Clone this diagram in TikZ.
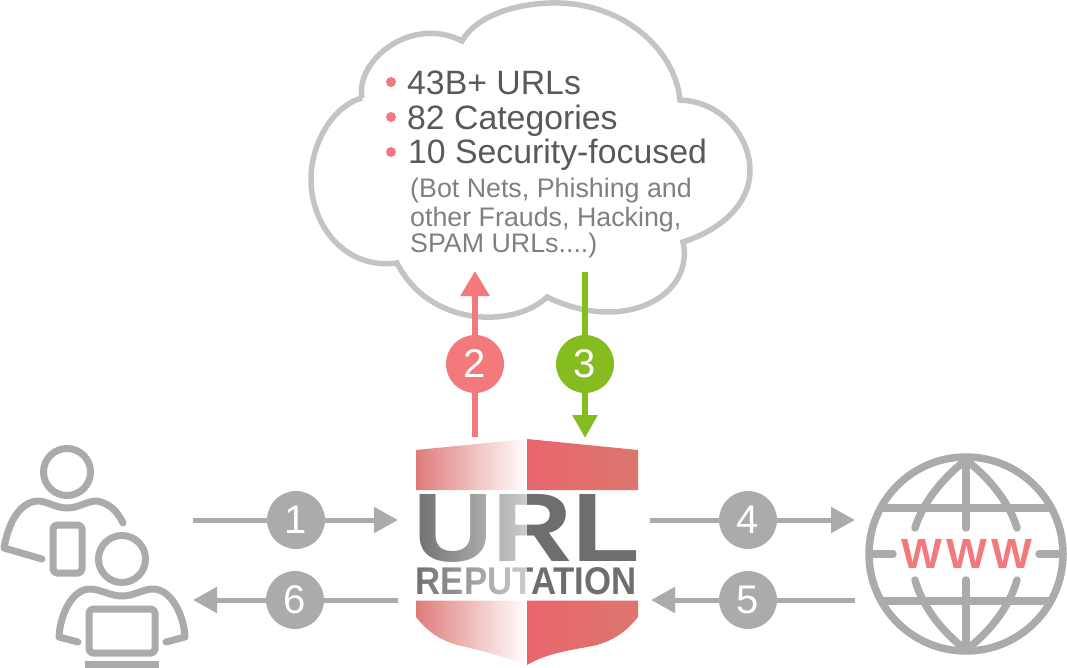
\documentclass[tikz,border=0pt]{standalone}
\usepackage{fontspec}
\setmainfont{Liberation Sans}
\usetikzlibrary{arrows.meta,fadings}
\definecolor{flow}{HTML}{ABABAB}
\definecolor{rosy}{HTML}{F4797C}
\definecolor{leaf}{HTML}{85BC20}
\definecolor{cloudline}{HTML}{C4C4C4}
\definecolor{bigtext}{HTML}{5A5858}
\definecolor{smalltext}{HTML}{808080}
\definecolor{urlgray}{HTML}{706E6C}
\definecolor{shieldA}{HTML}{E8656C}
\definecolor{shieldB}{HTML}{DD776E}
\definecolor{shieldC}{HTML}{DF7C7A}
\tikzfading[name=urlfade,left color=transparent!100,right color=transparent!35]
\tikzset{
  x=1pt,y=-1pt,
  numdisc/.style={circle,minimum size=58pt,inner sep=0,text=white,font=\fontsize{40}{40}\selectfont},
  flowline/.style={draw=flow,line width=5pt},
  flowhead/.style={flowline,-{Triangle[length=24pt,width=25pt]}},
  redhead/.style={draw=rosy,line width=5.5pt},
  greenhead/.style={draw=leaf,line width=5.5pt},
  iconline/.style={draw=flow,line width=7pt,line cap=round,line join=round},
  globeline/.style={iconline,line width=7.5pt},
  bigline/.style={anchor=base west,inner sep=0,text=bigtext,font=\fontsize{33.8}{33.8}\selectfont},
  smallline/.style={anchor=base west,inner sep=0,text=smalltext,font=\fontsize{26.8}{26.8}\selectfont},
  dotmark/.style={circle,fill=rosy,minimum size=10pt,inner sep=0},
  shieldleft/.style={left color=shieldC,right color=white},
  shieldright/.style={left color=shieldA,right color=shieldB},
}
\begin{document}
\begin{tikzpicture}
\useasboundingbox (0,0) rectangle (1067,668);
% cloud
\draw[draw=cloudline,line width=5.5pt,line join=miter]
  (362,98) .. controls (355,60) and (412,15) .. (462,41)
  .. controls (480,10) and (530,2) .. (560,3)
  .. controls (625,5) and (675,50) .. (680,100)
  .. controls (725,102) and (750,140) .. (750,170)
  .. controls (750,205) and (720,230) .. (683,242)
  .. controls (695,295) and (625,335) .. (547,297)
  .. controls (515,328) and (430,328) .. (397,263)
  .. controls (345,270) and (310,225) .. (311,177)
  .. controls (312,140) and (335,105) .. (362,98);
% cloud text
\node[dotmark] (d1) at (391,82) {};
\node[dotmark] (d2) at (391,117) {};
\node[dotmark] (d3) at (391,152) {};
\node[bigline] (t1) at (407,94.5) {43B+ URLs};
\node[bigline] (t2) at (407,130) {82 Categories};
\node[bigline] (t3) at (408,164) {10 Security-focused};
\node[smallline] (t4) at (410,198) {(Bot Nets, Phishing and};
\node[smallline] (t5) at (410,226) {other Frauds, Hacking,};
\node[smallline] (t6) at (410,252.5) {SPAM URLs....)};
% shield
\path[shieldleft] (416,450) -- (527,439) -- (527,490) -- (416,490) -- cycle;
\path[shieldright] (527,439) -- (638,450) -- (638,490) -- (527,490) -- cycle;
\path[shieldleft] (416,600.5) -- (527,600.5) -- (527,665)
  .. controls (505,657) and (480,650) .. (457,645)
  .. controls (440,640) and (428,632) .. (416,617) -- cycle;
\path[shieldright] (527,600.5) -- (638,600.5) -- (638,617)
  .. controls (626,632) and (614,640) .. (597,645)
  .. controls (574,650) and (549,652) .. (527,665) -- cycle;
\node[anchor=south west,inner sep=0,text=urlgray] (url) at (413,562.5)
  {\resizebox{227pt}{67pt}{\bfseries URL}};
\node[anchor=south west,inner sep=0,text=urlgray] (rep) at (415.5,595)
  {\resizebox{221pt}{27pt}{\bfseries REPUTATION}};
\fill[white,path fading=urlfade] (412,492) rectangle (527,598);
% anchors of the connectors
\coordinate (s1) at (193,520);
\coordinate (e1) at (398,520);
\coordinate (s4) at (650,520);
\coordinate (e4) at (855,520);
\coordinate (s5) at (855,600);
\coordinate (e5) at (651,600);
\coordinate (s6) at (398,600);
\coordinate (e6) at (193,600);
\coordinate (s2) at (475,437);
\coordinate (e2) at (475,271);
\coordinate (s3) at (585,272);
\coordinate (e3) at (585,438);
\node[numdisc,fill=flow] (n1) at (296,520) {1};
\node[numdisc,fill=flow] (n4) at (748,520) {4};
\node[numdisc,fill=flow] (n5) at (748,600) {5};
\node[numdisc,fill=flow] (n6) at (295,600) {6};
\node[numdisc,fill=rosy] (n2) at (475,364) {2};
\node[numdisc,fill=leaf] (n3) at (585,364) {3};
\draw[flowline] (s1) -- (n1);
\draw[flowhead] (n1) -- (e1);
\draw[flowline] (s4) -- (n4);
\draw[flowhead] (n4) -- (e4);
\draw[flowline] (s5) -- (n5);
\draw[flowhead] (n5) -- (e5);
\draw[flowline] (s6) -- (n6);
\draw[flowhead] (n6) -- (e6);
\draw[redhead] (s2) -- (n2);
\draw[redhead,-{Triangle[length=25pt,width=28pt]}] (n2) -- (e2);
\draw[greenhead] (s3) -- (n3);
\draw[greenhead,-{Triangle[length=23pt,width=24pt]}] (n3) -- (e3);
% users
\draw[iconline] (67,472) circle (23.5);
\draw[iconline] (42,559) -- (4,548)
  .. controls (8,525) and (18,503) .. (37,501)
  .. controls (48,501) and (55,508) .. (67,508)
  .. controls (79,508) and (86,501) .. (97,501)
  .. controls (108,503) and (117,510) .. (123,523);
\draw[iconline] (53,525) [rounded corners=4pt] rectangle (82,573);
\draw[iconline] (122,559) circle (23.5);
\draw[iconline] (78,642) -- (59,637)
  .. controls (60,615) and (72,589) .. (90,589)
  .. controls (100,589) and (110,596) .. (122,596)
  .. controls (134,596) and (143,589) .. (153,589)
  .. controls (171,589) and (184,615) .. (185,637)
  -- (166,642);
\draw[iconline] (89,609) [rounded corners=4pt] rectangle (155,653);
\fill[flow] (85,661) rectangle (159,668);
% globe
\draw[globeline] (966,554) circle (97);
\draw[globeline,line cap=butt] (881,508) -- (1051,508);
\draw[globeline,line cap=butt] (881,601) -- (1051,601);
\draw[globeline] (874,554) -- (893,554);
\draw[globeline] (1039,554) -- (1058,554);
\draw[globeline] (966,460) -- (966,528);
\draw[globeline] (966,580) -- (966,650);
\draw[globeline] (966,460) .. controls (940,480) and (922,505) .. (915,528);
\draw[globeline] (966,460) .. controls (992,480) and (1010,505) .. (1017,528);
\draw[globeline] (966,650) .. controls (940,630) and (922,605) .. (915,580);
\draw[globeline] (966,650) .. controls (992,630) and (1010,605) .. (1017,580);
\node[anchor=south west,inner sep=0,text=rosy] (www) at (901,569)
  {\resizebox{131pt}{29pt}{\bfseries W\kern0.1em W\kern0.1em W}};
\end{tikzpicture}
\end{document}
